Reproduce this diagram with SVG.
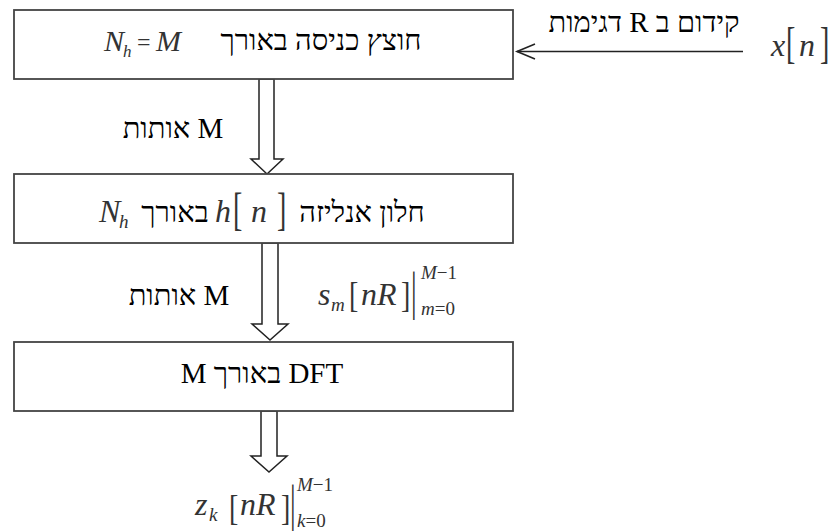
<svg xmlns="http://www.w3.org/2000/svg" width="836" height="532" viewBox="0 0 836 532">
<style>
.box{fill:#fff;stroke:#444;stroke-width:1.8}
.blk{fill:#fff;stroke:#222;stroke-width:1.5;stroke-linejoin:miter}
.ln{stroke:#222;stroke-width:1.6;fill:none}
.t{font-family:"Liberation Serif","Times New Roman",serif;font-size:29px;fill:#000}
.heb{direction:rtl}
.m{font-family:"Liberation Serif","Times New Roman",serif;font-style:italic;font-size:32px;fill:#333}
.s{font-family:"Liberation Serif","Times New Roman",serif;font-style:italic;font-size:19px;fill:#333}
.up{font-style:normal}
.br{font-family:"Liberation Serif","Times New Roman",serif;font-size:28px;fill:#333}
</style>
<rect width="836" height="532" fill="#fff"/>

<g id="connectors">
  <polyline class="ln" points="743,51.5 517,51.5"/>
  <polyline class="ln" points="535,44 517,51.5 535,59"/>
  <polygon class="blk" points="259,79 274,79 274,159 283,159 267,174 251,159 259,159"/>
  <polygon class="blk" points="262,243 278,243 278,324 288,324 270,340 252,324 262,324"/>
  <polygon class="blk" points="261,411 277,411 277,456 287,456 269,472 251,456 261,456"/>
</g>

<g id="input">
  <text class="t heb" x="644" y="32" text-anchor="middle">קידום ב R דגימות</text>
  <text class="m" x="771" y="56">x</text>
  <text class="br" transform="translate(786,58) scale(1,1.6)">[</text>
  <text class="m" x="799" y="56">n</text>
  <text class="br" transform="translate(820,58) scale(1,1.6)">]</text>
</g>

<g id="node-buffer">
  <rect class="box" x="14" y="10" width="499" height="69"/>
  <text class="m" x="104" y="51" style="font-size:30px">N</text>
  <text class="s" x="123" y="57" style="font-size:17px">h</text>
  <text class="m up" x="137" y="50" style="font-size:24px">=</text>
  <text class="m" x="156" y="51" style="font-size:30px">M</text>
  <text class="t heb" x="321" y="50" text-anchor="middle">חוצץ כניסה באורך</text>
</g>

<g id="label-1">
  <text class="t heb" x="173" y="138" text-anchor="middle">M אותות</text>
</g>

<g id="node-window">
  <rect class="box" x="14" y="174" width="499" height="69"/>
  <text class="m" x="99" y="222">N</text>
  <text class="s" x="119" y="228">h</text>
  <text class="t" x="175" y="222" text-anchor="middle">באורך</text>
  <text class="m" x="215" y="222">h</text>
  <text class="br" transform="translate(233,225) scale(1,1.65)">[</text>
  <text class="m" x="251" y="222">n</text>
  <text class="br" transform="translate(277,225) scale(1,1.65)">]</text>
  <text class="t" x="362" y="222" text-anchor="middle">חלון אנליזה</text>
</g>

<g id="label-2">
  <text class="t heb" x="179" y="305" text-anchor="middle">M אותות</text>
  <text class="m" x="318" y="305">s</text>
  <text class="s" x="331" y="311">m</text>
  <text class="br" transform="translate(349,307) scale(1,1.3)">[</text>
  <text class="m" x="361" y="305">nR</text>
  <text class="br" transform="translate(401,307) scale(1,1.3)">]</text>
  <text class="br" transform="translate(411,309) scale(1,1.9)">|</text>
  <text class="s" x="421" y="279">M<tspan class="up">−1</tspan></text>
  <text class="s" x="421" y="315">m<tspan class="up">=0</tspan></text>
</g>

<g id="node-dft">
  <rect class="box" x="14" y="342" width="499" height="69"/>
  <text class="t heb" x="262" y="383" text-anchor="middle">DFT באורך M</text>
</g>

<g id="output">
  <text class="m" x="195" y="515">z</text>
  <text class="s" x="209" y="521">k</text>
  <text class="br" transform="translate(229,520) scale(1,1.3)">[</text>
  <text class="m" x="240" y="515">nR</text>
  <text class="br" transform="translate(281,520) scale(1,1.3)">]</text>
  <text class="br" transform="translate(290,520) scale(1,1.8)">|</text>
  <text class="s" x="297" y="491">M<tspan class="up">−1</tspan></text>
  <text class="s" x="297" y="527">k<tspan class="up">=0</tspan></text>
</g>
</svg>
